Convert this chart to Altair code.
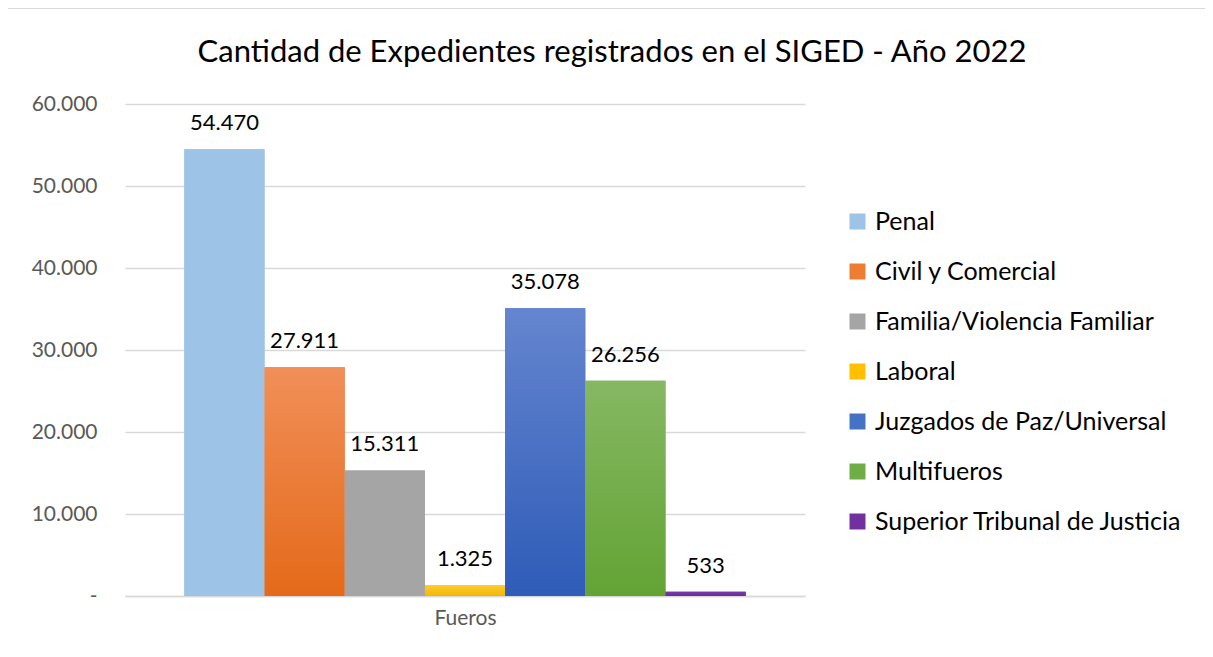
import altair as alt
import pandas as pd

series = ["Penal", "Civil y Comercial", "Familia/Violencia Familiar", "Laboral",
          "Juzgados de Paz/Universal", "Multifueros", "Superior Tribunal de Justicia"]
values = [54470, 27911, 15311, 1325, 35078, 26256, 533]
flat_colors = ["#9DC3E6", "#ED7D31", "#A5A5A5", "#FFC000", "#4472C4", "#70AD47", "#7030A0"]
grad_top = ["#9DC3E6", "#F18F59", "#A5A5A5", "#FFCB33", "#6585CF", "#86B863", "#7A3AAB"]
grad_bottom = ["#9DC3E6", "#E46A19", "#A5A5A5", "#F2B800", "#2E5CB8", "#63A334", "#6A2C98"]

labels = [f"{v:,}".replace(",", ".") for v in values]
df = pd.DataFrame({"serie": series, "valor": values, "etiqueta": labels})

FONT = "Lato"

x_enc = alt.X("serie:N", sort=series,
              scale=alt.Scale(paddingInner=0, paddingOuter=0.74),
              axis=alt.Axis(labels=False, ticks=False, title="Fueros", titleColor="#595959",
                            titleFontSize=21, titleFontWeight="normal", titleFont=FONT,
                            titlePadding=11, domainColor="#D9D9D9", domainWidth=1.5))
y_enc = alt.Y("valor:Q", scale=alt.Scale(domain=[0, 60000]),
              axis=alt.Axis(values=[0, 10000, 20000, 30000, 40000, 50000, 60000],
                            labelExpr="datum.value == 0 ? '-\u00a0\u00a0\u00a0' : replace(datum.label, ',', '.')",
                            domain=False, ticks=False, labelPadding=28, labelColor="#595959",
                            labelFontSize=21, labelFont=FONT, gridColor="#D9D9D9", gridWidth=1.5,
                            title=None))

base = alt.Chart(df).mark_bar().encode(
    x=x_enc, y=y_enc,
    color=alt.Color("serie:N", sort=series,
                    scale=alt.Scale(domain=series, range=flat_colors),
                    legend=alt.Legend(title=None, orient="none", legendX=720, legendY=105,
                                      symbolType="square", symbolSize=256, symbolStrokeWidth=0,
                                      labelFontSize=25, labelFont=FONT, labelColor="#000000",
                                      rowPadding=24, labelOffset=5, labelLimit=400))
)

layers = [base]
for s, t, b in zip(series, grad_top, grad_bottom):
    grad = alt.Gradient(gradient="linear", x1=0, x2=0, y1=0, y2=1,
                        stops=[alt.GradientStop(color=t, offset=0), alt.GradientStop(color=b, offset=1)])
    layers.append(
        alt.Chart(df).transform_filter(alt.datum.serie == s)
        .mark_bar(color=grad).encode(x=x_enc, y=y_enc)
    )

text = alt.Chart(df).mark_text(baseline="alphabetic", dy=-19, fontSize=22, font=FONT,
                               color="#000000").encode(x=x_enc, y=y_enc, text="etiqueta:N")
layers.append(text)

border = alt.Chart(df).mark_rect(fill=None, stroke="#D9D9D9", strokeWidth=1.5).encode(
    x=alt.value(-118), x2=alt.value(1300), y=alt.value(-96), y2=alt.value(700))
layers.insert(0, border)

chart = alt.layer(*layers).properties(
    width=680, height=492,
    padding={"left": 117, "top": 96, "right": 400, "bottom": 53},
    autosize=alt.AutoSizeParams(type="none"),
    title=alt.TitleParams("Cantidad de Expedientes registrados en el SIGED - Año 2022",
                          fontSize=31, font=FONT, fontWeight="normal", color="#000000",
                          anchor="middle", dx=147, offset=-62),
).configure_view(stroke=None)

chart.save("out.html", embed_options={"renderer": "svg", "actions": False})
